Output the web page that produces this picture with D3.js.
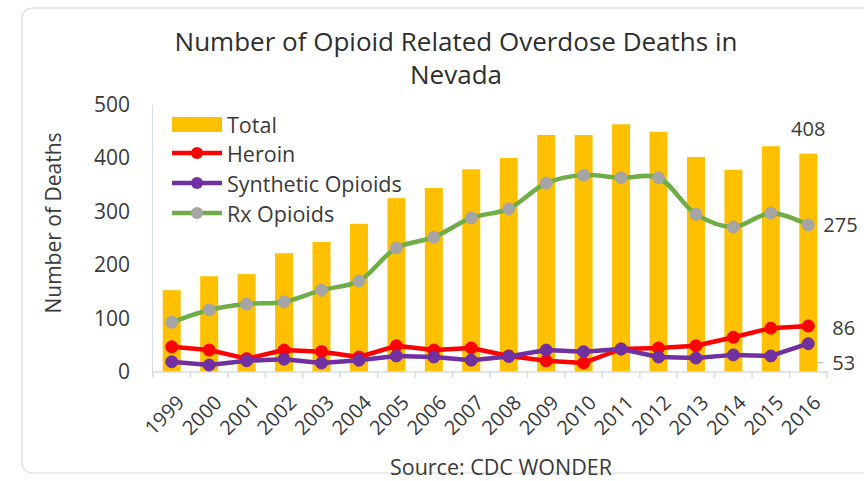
<!DOCTYPE html>
<html><head><meta charset="utf-8">
<script src="https://cdn.jsdelivr.net/npm/d3@7"></script>
<style>html,body{margin:0;padding:0;background:#fff;}svg{display:block;font-family:"Open Sans",Lato,sans-serif;}</style>
</head><body>
<svg id="chart" width="864" height="481"></svg>
<script>
const years = ["1999","2000","2001","2002","2003","2004","2005","2006","2007","2008","2009","2010","2011","2012","2013","2014","2015","2016"];
const total = [153,179,183,222,243,277,325,344,379,400,443,443,463,449,402,378,422,408];
const heroin = [47,41,25,41,38,28,49,41,45,30,21,17,43,45,49,65,82,86];
const synthetic = [19,13,21,24,17,22,30,28,22,29,41,38,43,28,26,32,30,53];
const rx = [93,116,127,131,153,170,232,252,288,305,353,368,363,363,295,271,297,275];
const yTicks = [0,100,200,300,400,500];
const seriesNames = ["Total","Heroin","Synthetic Opioids","Rx Opioids"];

const svg = d3.select("#chart");
const textColor = "#3a3a3a";
const FONT = "'Open Sans', Lato, sans-serif";

// outer frame
svg.append("rect").attr("x",22).attr("y",8).attr("width",870).attr("height",465)
  .attr("rx",10).attr("fill","#fff").attr("stroke","#d9d9d9").attr("stroke-width",1.2);

const x = d3.scaleBand().domain(years).range([153,827]).paddingInner(0.52).paddingOuter(0.26);
const y = d3.scaleLinear().domain([0,500]).range([372,104.5]);

// title
svg.append("text").attr("x",456).attr("y",51).attr("text-anchor","middle")
  .attr("font-size",26).attr("fill","#2e2e2e").text("Number of Opioid Related Overdose Deaths in");
svg.append("text").attr("x",456).attr("y",84).attr("text-anchor","middle")
  .attr("font-size",26).attr("fill","#2e2e2e").text("Nevada");

// y axis
const yAxis = svg.append("g").attr("transform","translate(152,0)")
  .call(d3.axisLeft(y).tickValues(yTicks).tickSize(0).tickPadding(22));
yAxis.select(".domain").attr("stroke","#d6dce5");
yAxis.selectAll("text").attr("font-size",21).attr("fill",textColor).attr("font-family",FONT);

svg.append("text").attr("transform","translate(61,223) rotate(-90)").attr("text-anchor","middle")
  .attr("font-size",21).attr("fill",textColor).text("Number of Deaths");

// bars
svg.append("g").selectAll("rect").data(years).join("rect")
  .attr("x",d=>x(d)).attr("width",x.bandwidth())
  .attr("y",(d,i)=>y(total[i])).attr("height",(d,i)=>y(0)-y(total[i]))
  .attr("fill","#FFC000");

// x axis
const xAxisG = svg.append("g").attr("transform","translate(0,372)");
xAxisG.append("line").attr("x1",152).attr("x2",828).attr("stroke","#d6dce5").attr("stroke-width",1.5);
const step = x.step();
const boundaries = d3.range(years.length+1).map(i=>153 + i*step);
xAxisG.selectAll("line.tk").data(boundaries).join("line").attr("class","tk")
  .attr("x1",d=>d).attr("x2",d=>d).attr("y1",0).attr("y2",6).attr("stroke","#d6dce5").attr("stroke-width",1.5);
xAxisG.selectAll("text").data(years).join("text")
  .attr("transform",d=>`translate(${x(d)+x.bandwidth()/2+4},${22}) rotate(-45)`)
  .attr("text-anchor","end").attr("dy","0.7em").attr("font-size",20).attr("fill",textColor).text(d=>d);

// lines
const cx = d => x(d)+x.bandwidth()/2;
function drawLine(vals, color, markerColor, curve){
  const pts = years.map((d,i)=>[cx(d), y(vals[i])]);
  svg.append("path").datum(pts).attr("fill","none").attr("stroke",color).attr("stroke-width",4.5)
    .attr("stroke-linejoin","round").attr("d", d3.line().curve(curve)(pts));
  svg.append("g").selectAll("circle").data(pts).join("circle")
    .attr("cx",d=>d[0]).attr("cy",d=>d[1]).attr("r",6).attr("fill",markerColor).attr("stroke",markerColor);
}
drawLine(rx, "#70AD47", "#A5A5A5", d3.curveCatmullRom.alpha(0.5));
drawLine(heroin, "#FF0000", "#FF0000", d3.curveLinear);
drawLine(synthetic, "#7030A0", "#7030A0", d3.curveLinear);

// data labels
const last = years.length-1;
const lx = cx(years[last]);
svg.append("text").attr("x",lx).attr("y",y(total[last])-25).attr("text-anchor","middle")
  .attr("dominant-baseline","central").attr("font-size",20).attr("fill",textColor).text(total[last]);
svg.append("text").attr("x",lx+15).attr("y",y(rx[last])).attr("dominant-baseline","central")
  .attr("font-size",20).attr("fill",textColor).text(rx[last]);
svg.append("text").attr("x",lx+24).attr("y",y(heroin[last])+2).attr("dominant-baseline","central")
  .attr("font-size",20).attr("fill",textColor).text(heroin[last]);
svg.append("line").attr("x1",lx+9).attr("x2",lx+15).attr("y1",y(synthetic[last])+19).attr("y2",y(synthetic[last])+19)
  .attr("stroke","#bfbfbf").attr("stroke-width",1.2);
svg.append("text").attr("x",lx+24).attr("y",y(synthetic[last])+19).attr("dominant-baseline","central")
  .attr("font-size",20).attr("fill",textColor).text(synthetic[last]);

// legend
const lg = svg.append("g");
const ly = [124,153,183,213];
lg.append("rect").attr("x",172).attr("y",ly[0]-7).attr("width",50).attr("height",15).attr("fill","#FFC000");
const legLines = [["#FF0000","#FF0000"],["#7030A0","#7030A0"],["#70AD47","#A5A5A5"]];
legLines.forEach((c,i)=>{
  lg.append("line").attr("x1",172).attr("x2",222).attr("y1",ly[i+1]).attr("y2",ly[i+1]).attr("stroke",c[0]).attr("stroke-width",4.5);
  lg.append("circle").attr("cx",197).attr("cy",ly[i+1]).attr("r",6).attr("fill",c[1]);
});
seriesNames.forEach((n,i)=>{
  lg.append("text").attr("x",227).attr("y",ly[i]).attr("dominant-baseline","central")
    .attr("font-size",21.5).attr("fill",textColor).text(n);
});

// source
svg.append("text").attr("x",501).attr("y",466).attr("text-anchor","middle").attr("dominant-baseline","central")
  .attr("font-size",21.5).attr("fill",textColor).text("Source: CDC WONDER");
</script>
</body></html>
